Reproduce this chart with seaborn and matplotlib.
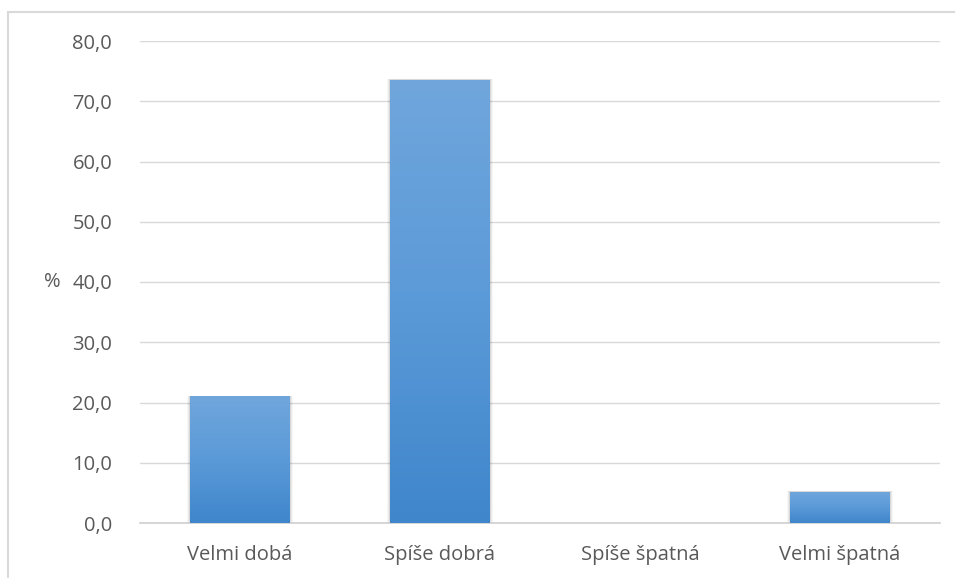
import numpy as np
import pandas as pd
import matplotlib
matplotlib.use("Agg")
import matplotlib.pyplot as plt
from matplotlib.patches import Rectangle
from matplotlib.colors import LinearSegmentedColormap
import seaborn as sns

# data
categories = ["Velmi dobá", "Spíše dobrá", "Spíše špatná", "Velmi špatná"]
values = [21.0, 73.6, 0.0, 5.2]
y_ticks = [0, 10, 20, 30, 40, 50, 60, 70, 80]

df = pd.DataFrame({"kategorie": categories, "procenta": values})

sns.set_theme(style="white")
plt.rcParams["font.family"] = ["Open Sans", "DejaVu Sans"]
text_col = "#595959"

W, H = 955, 578
fig = plt.figure(figsize=(W / 100, H / 100), dpi=100)
# plot area in pixels: x 140..940, y 41..523
ax = fig.add_axes([140 / W, 1 - 523 / H, 800 / W, 482 / H])

sns.barplot(data=df, x="kategorie", y="procenta", color="#5b9bd5",
            width=0.5, ax=ax, zorder=3, edgecolor="none", linewidth=0)

# gradient + soft shadow, like the office chart
cmap = LinearSegmentedColormap.from_list("bar", ["#3f86cb", "#5b9ad8", "#70a6dc"])
grad = np.linspace(0, 1, 256).reshape(-1, 1)
for p in ax.patches:
    x0, y0 = p.get_x(), p.get_y()
    w, h = p.get_width(), p.get_height()
    if h <= 0:
        continue
    for k, a in enumerate([0.07, 0.05, 0.03]):
        d = 0.005 * (k + 1)
        ax.add_patch(Rectangle((x0 - d, y0), w + 2 * d, h + 0.05 * (k + 1),
                               color="black", alpha=a, lw=0, zorder=2))
    im = ax.imshow(grad, cmap=cmap, aspect="auto", origin="lower",
                   extent=[x0, x0 + w, y0, y0 + h], zorder=4)
    im.set_clip_path(p)

ax.set_xlim(-0.5, 3.5)
ax.set_ylim(0, 80)
ax.set_yticks(y_ticks)
ax.set_yticklabels([f"{t:.1f}".replace(".", ",") for t in y_ticks])
ax.yaxis.grid(True, color="#d9d9d9", lw=1, zorder=0)
ax.set_axisbelow(True)
for s in ["top", "right", "left"]:
    ax.spines[s].set_visible(False)
ax.spines["bottom"].set_color("#d0d0d0")
ax.spines["bottom"].set_linewidth(1.2)
ax.tick_params(axis="both", length=0, labelsize=14.5, colors=text_col)
ax.tick_params(axis="y", pad=20)
ax.tick_params(axis="x", pad=16)
ax.set_xlabel("")
ax.set_ylabel("%", rotation=0, fontsize=14.5, color=text_col, va="center")
ax.yaxis.set_label_coords(-0.11, 0.5)

# chart border
fig.patches.append(Rectangle((8 / W, -0.1), 2, 1 - 12 / H + 0.1,
                             transform=fig.transFigure, fill=False,
                             edgecolor="#d9d9d9", lw=1.5))

fig.savefig("out.png", dpi=100)
